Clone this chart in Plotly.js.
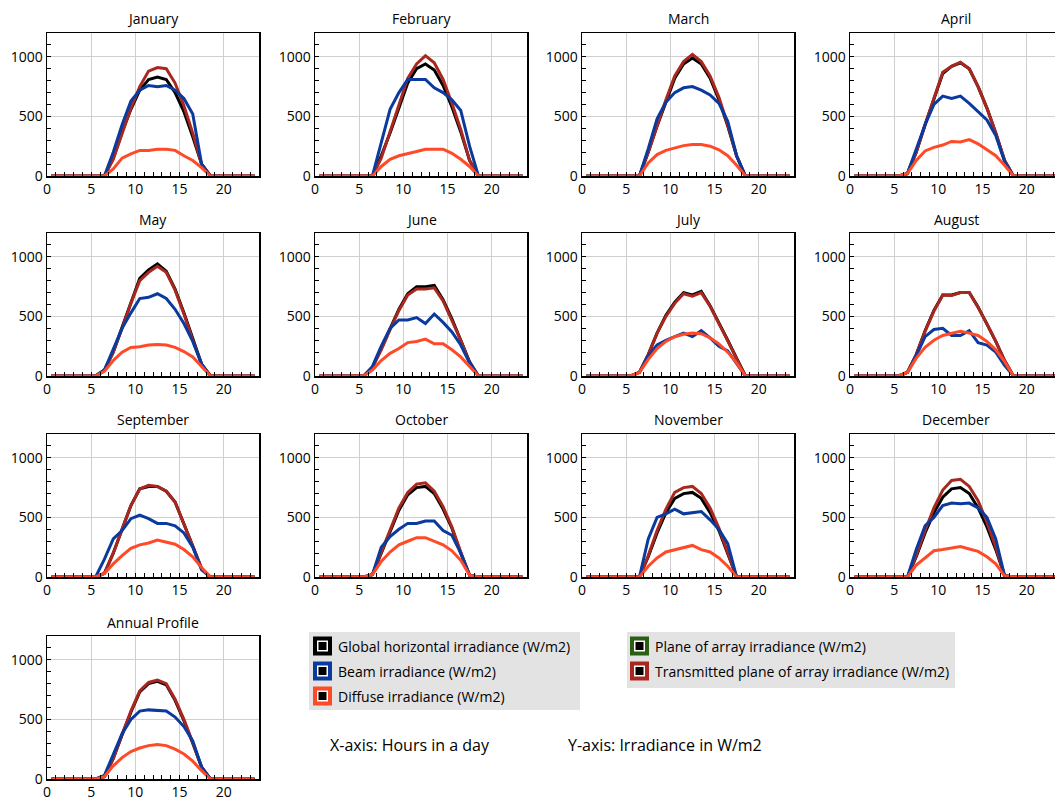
<!DOCTYPE html>
<html><head><meta charset="utf-8">
<script src="https://cdn.plot.ly/plotly-3.0.1.min.js"></script>
<style>html,body{margin:0;padding:0;overflow:hidden;background:#fff}</style>
</head><body><div id="chart"></div>
<script>
// ---------------- DATA ----------------
const hours = [0.5,1.5,2.5,3.5,4.5,5.5,6.5,7.5,8.5,9.5,10.5,11.5,12.5,13.5,14.5,15.5,16.5,17.5,18.5,19.5,20.5,21.5,22.5,23.5];
const panelTitles = ["January","February","March","April","May","June","July","August","September","October","November","December","Annual Profile"];
const xTickVals = [0,5,10,15,20];
const yTickVals = [0,500,1000];
const seriesNames = ["Global horizontal irradiance (W/m2)","Beam irradiance (W/m2)","Diffuse irradiance (W/m2)","Plane of array irradiance (W/m2)","Transmitted plane of array irradiance (W/m2)"];

const janGHI  = [0,0,0,0,0,0,0,150,370,560,720,810,830,810,700,540,330,100,0,0,0,0,0,0];
const janBeam = [0,0,0,0,0,0,0,200,430,630,720,760,750,760,720,650,520,100,0,0,0,0,0,0];
const janDiff = [0,0,0,0,0,0,0,60,150,185,215,215,225,225,215,170,130,70,0,0,0,0,0,0];
const janTPOA = [0,0,0,0,0,0,0,140,360,570,750,880,910,900,780,590,360,100,0,0,0,0,0,0];

const febGHI  = [0,0,0,0,0,0,0,170,360,570,780,900,940,890,760,580,370,130,0,0,0,0,0,0];
const febBeam = [0,0,0,0,0,0,0,280,560,700,810,810,810,740,700,640,550,250,0,0,0,0,0,0];
const febDiff = [0,0,0,0,0,0,0,80,140,170,185,205,225,225,225,190,140,80,0,0,0,0,0,0];
const febTPOA = [0,0,0,0,0,0,0,150,380,600,820,940,1010,950,810,610,390,130,0,0,0,0,0,0];

const marGHI  = [0,0,0,0,0,0,0,200,420,620,820,940,990,940,820,640,420,170,0,0,0,0,0,0];
const marBeam = [0,0,0,0,0,0,0,230,480,620,700,740,750,720,680,610,460,170,0,0,0,0,0,0];
const marDiff = [0,0,0,0,0,0,0,110,180,215,235,255,265,265,250,220,170,90,0,0,0,0,0,0];
const marTPOA = [0,0,0,0,0,0,0,200,430,640,840,960,1020,960,840,660,430,170,0,0,0,0,0,0];

const aprGHI  = [0,0,0,0,0,0,20,200,430,650,860,920,950,900,750,570,360,130,0,0,0,0,0,0];
const aprBeam = [0,0,0,0,0,0,20,230,430,600,670,650,670,610,540,470,340,120,0,0,0,0,0,0];
const aprDiff = [0,0,0,0,0,0,20,130,210,240,260,290,285,305,270,220,170,90,0,0,0,0,0,0];
const aprTPOA = [0,0,0,0,0,0,20,200,430,650,870,920,955,900,750,570,360,130,0,0,0,0,0,0];

const mayGHI  = [0,0,0,0,0,0,50,200,410,620,820,890,940,880,730,530,310,100,0,0,0,0,0,0];
const mayBeam = [0,0,0,0,0,0,50,230,400,530,650,660,690,650,560,440,290,100,0,0,0,0,0,0];
const mayDiff = [0,0,0,0,0,0,40,130,200,240,245,260,265,260,240,205,160,80,0,0,0,0,0,0];
const mayTPOA = [0,0,0,0,0,0,50,200,400,610,800,870,920,870,720,520,300,100,0,0,0,0,0,0];

const junGHI  = [0,0,0,0,0,0,70,230,400,560,690,750,750,760,640,480,300,120,0,0,0,0,0,0];
const junBeam = [0,0,0,0,0,0,80,250,400,470,470,490,440,520,450,370,260,110,0,0,0,0,0,0];
const junDiff = [0,0,0,0,0,0,50,130,190,230,280,290,310,270,270,220,160,80,0,0,0,0,0,0];
const junTPOA = [0,0,0,0,0,0,70,220,390,550,680,730,730,740,630,470,300,110,0,0,0,0,0,0];

const julGHI  = [0,0,0,0,0,0,30,180,360,510,620,700,680,710,590,450,300,150,0,0,0,0,0,0];
const julBeam = [0,0,0,0,0,0,30,170,260,300,330,360,330,380,320,250,210,100,0,0,0,0,0,0];
const julDiff = [0,0,0,0,0,0,30,140,230,290,330,350,360,355,320,270,200,110,0,0,0,0,0,0];
const julTPOA = [0,0,0,0,0,0,30,180,360,500,610,690,670,700,585,445,295,145,0,0,0,0,0,0];

const augGHI  = [0,0,0,0,0,0,30,180,380,550,680,680,700,700,580,440,290,130,0,0,0,0,0,0];
const augBeam = [0,0,0,0,0,0,30,170,330,390,400,340,340,380,280,260,200,90,0,0,0,0,0,0];
const augDiff = [0,0,0,0,0,0,30,150,240,300,340,360,375,360,340,290,220,120,0,0,0,0,0,0];
const augTPOA = [0,0,0,0,0,0,30,180,375,545,680,675,700,700,575,440,290,130,0,0,0,0,0,0];

const sepGHI  = [0,0,0,0,0,0,30,200,400,600,740,760,760,720,630,450,260,70,0,0,0,0,0,0];
const sepBeam = [0,0,0,0,0,0,150,320,390,490,520,490,450,450,430,370,250,60,0,0,0,0,0,0];
const sepDiff = [0,0,0,0,0,0,30,110,180,240,270,285,310,290,275,230,170,80,0,0,0,0,0,0];
const sepTPOA = [0,0,0,0,0,0,30,200,400,600,740,770,760,720,630,450,260,70,0,0,0,0,0,0];

const octGHI  = [0,0,0,0,0,0,20,200,390,560,690,750,760,700,570,410,200,15,0,0,0,0,0,0];
const octBeam = [0,0,0,0,0,0,20,250,340,400,450,450,470,470,390,350,200,15,0,0,0,0,0,0];
const octDiff = [0,0,0,0,0,0,20,130,210,270,300,330,330,300,270,220,140,15,0,0,0,0,0,0];
const octTPOA = [0,0,0,0,0,0,20,210,400,580,710,780,790,720,590,420,210,15,0,0,0,0,0,0];

const novGHI  = [0,0,0,0,0,0,0,170,370,540,660,700,710,660,540,390,200,0,0,0,0,0,0,0];
const novBeam = [0,0,0,0,0,0,0,320,500,530,570,530,540,550,480,400,280,0,0,0,0,0,0,0];
const novDiff = [0,0,0,0,0,0,0,90,160,210,230,250,265,230,210,160,90,0,0,0,0,0,0,0];
const novTPOA = [0,0,0,0,0,0,0,180,390,570,710,750,760,700,580,410,210,0,0,0,0,0,0,0];

const decGHI  = [0,0,0,0,0,0,0,170,370,540,670,740,750,700,580,420,230,10,0,0,0,0,0,0];
const decBeam = [0,0,0,0,0,0,0,230,430,500,600,620,615,620,580,500,320,10,0,0,0,0,0,0];
const decDiff = [0,0,0,0,0,0,0,100,160,220,230,240,255,235,215,170,110,10,0,0,0,0,0,0];
const decTPOA = [0,0,0,0,0,0,0,180,390,580,730,810,820,760,640,460,250,10,0,0,0,0,0,0];

const annGHI  = [0,0,0,0,0,0,20,170,370,560,730,800,820,790,660,490,300,100,0,0,0,0,0,0];
const annBeam = [0,0,0,0,0,0,30,200,380,500,570,580,575,570,520,440,320,100,0,0,0,0,0,0];
const annDiff = [0,0,0,0,0,0,20,110,180,230,260,280,290,280,250,210,150,70,0,0,0,0,0,0];
const annTPOA = [0,0,0,0,0,0,20,175,375,570,740,810,830,800,670,500,305,100,0,0,0,0,0,0];

const ghiSets  = [janGHI,febGHI,marGHI,aprGHI,mayGHI,junGHI,julGHI,augGHI,sepGHI,octGHI,novGHI,decGHI,annGHI];
const beamSets = [janBeam,febBeam,marBeam,aprBeam,mayBeam,junBeam,julBeam,augBeam,sepBeam,octBeam,novBeam,decBeam,annBeam];
const diffSets = [janDiff,febDiff,marDiff,aprDiff,mayDiff,junDiff,julDiff,augDiff,sepDiff,octDiff,novDiff,decDiff,annDiff];
const tpoaSets = [janTPOA,febTPOA,marTPOA,aprTPOA,mayTPOA,junTPOA,julTPOA,augTPOA,sepTPOA,octTPOA,novTPOA,decTPOA,annTPOA];

// ---------------- STYLE / LAYOUT ----------------
const W = 1062, H = 801;
const colLeft = [47, 315, 582, 850];
const rowTop = [33, 233, 434, 636];
const PW = 212, PH = 143;
const C_GHI = '#000000', C_BEAM = '#0a3a9e', C_DIFF = '#ff4a28', C_POA = '#2c5e14', C_TPOA = '#a8281f';
const FONT = 'Open Sans, Noto Sans, sans-serif';

const px = x => x / W;
const py = y => 1 - y / H;

const data = [];
const layout = {
  width: W, height: H,
  margin: {l: 0, r: 0, t: 0, b: 0},
  paper_bgcolor: '#ffffff', plot_bgcolor: '#ffffff',
  showlegend: false,
  font: {family: FONT, size: 14, color: '#000'},
  shapes: [], annotations: []
};

for (let i = 0; i < panelTitles.length; i++) {
  const col = i % 4, row = Math.floor(i / 4);
  const n = i === 0 ? '' : String(i + 1);
  const xa = 'x' + n, ya = 'y' + n;
  const L = colLeft[col], T = rowTop[row];
  const common = {
    showline: true, linecolor: '#000', linewidth: 1.5, mirror: true,
    showgrid: true, gridcolor: '#cfcfcf', gridwidth: 1,
    zeroline: false, fixedrange: true,
    ticks: 'inside', ticklen: 4, tickcolor: '#000', tickwidth: 1,
    tickfont: {family: FONT, size: 14, color: '#000'}
  };
  layout['xaxis' + n] = Object.assign({}, common, {
    domain: [px(L), Math.min(1, px(L + PW))], anchor: ya,
    range: [0, 24], tickmode: 'array', tickvals: xTickVals,
    minor: {dtick: 1, ticks: 'inside', ticklen: 4, tickcolor: '#000', showgrid: false}
  });
  layout['yaxis' + n] = Object.assign({}, common, {
    domain: [py(T + PH), py(T)], anchor: xa,
    range: [0, 1200], tickmode: 'array', tickvals: yTickVals,
    minor: {dtick: 100, ticks: 'inside', ticklen: 4, tickcolor: '#000', showgrid: false}
  });
  const mk = (y, color, w, name) => ({
    type: 'scatter', mode: 'lines', x: hours, y: y, xaxis: xa, yaxis: ya,
    name: name, line: {color: color, width: w}, hoverinfo: 'skip'
  });
  data.push(mk(ghiSets[i], C_GHI, 3, seriesNames[0]));
  data.push(mk(tpoaSets[i], C_TPOA, 3, seriesNames[4]));
  data.push(mk(beamSets[i], C_BEAM, 3, seriesNames[1]));
  data.push(mk(diffSets[i], C_DIFF, 3, seriesNames[2]));

  layout.annotations.push({
    text: panelTitles[i], xref: 'paper', yref: 'paper',
    x: px(L + PW / 2), y: py(T - 14), xanchor: 'center', yanchor: 'middle',
    showarrow: false, font: {family: FONT, size: 14, color: '#000'}
  });
}

// ---------------- LEGEND (custom boxes) ----------------
function rect(x0, y0, x1, y1, fill) {
  layout.shapes.push({type: 'rect', xref: 'paper', yref: 'paper',
    x0: px(x0), x1: px(x1), y0: py(y1), y1: py(y0),
    fillcolor: fill, line: {width: 0}, layer: 'above'});
}
function legendItem(x, yc, color, label) {
  const s = 19;
  const y0 = yc - s / 2;
  rect(x, y0, x + s, y0 + s, color);
  rect(x + 4, y0 + 4, x + s - 4, y0 + s - 4, '#ffffff');
  rect(x + 5.5, y0 + 5.5, x + s - 5.5, y0 + s - 5.5, '#000000');
  layout.annotations.push({
    text: label, xref: 'paper', yref: 'paper', x: px(x + 23), y: py(yc),
    xanchor: 'left', yanchor: 'middle', showarrow: false,
    font: {family: FONT, size: 14, color: '#000'}
  });
}
rect(309, 632, 580, 710, '#e3e3e3');
rect(627, 632, 955, 688, '#e3e3e3');
legendItem(313, 646, C_GHI, seriesNames[0]);
legendItem(313, 671, C_BEAM, seriesNames[1]);
legendItem(313, 696, C_DIFF, seriesNames[2]);
legendItem(630, 646, C_POA, seriesNames[3]);
legendItem(630, 671, C_TPOA, seriesNames[4]);

layout.annotations.push({
  text: 'X-axis: Hours in a day', xref: 'paper', yref: 'paper',
  x: px(328), y: py(745), xanchor: 'left', yanchor: 'middle', showarrow: false,
  font: {family: FONT, size: 16, color: '#000'}
});
layout.annotations.push({
  text: 'Y-axis: Irradiance in W/m2', xref: 'paper', yref: 'paper',
  x: px(566), y: py(745), xanchor: 'left', yanchor: 'middle', showarrow: false,
  font: {family: FONT, size: 16, color: '#000'}
});

Plotly.newPlot('chart', data, layout, {staticPlot: true, displayModeBar: false});
</script></body></html>
